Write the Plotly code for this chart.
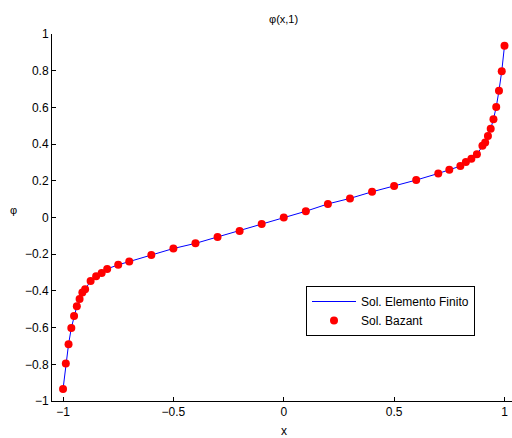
import plotly.graph_objects as go

# Nodal values of phi(x, 1)
x_nodes = [-1.0, -0.9875, -0.975, -0.9625, -0.95, -0.9375, -0.925, -0.9125, -0.9,
           -0.875, -0.85, -0.825, -0.8, -0.75, -0.7, -0.6, -0.5, -0.4, -0.3, -0.2, -0.1,
           0.0, 0.1, 0.2, 0.3, 0.4, 0.5, 0.6, 0.7, 0.75, 0.8, 0.825, 0.85, 0.875,
           0.9, 0.9125, 0.925, 0.9375, 0.95, 0.9625, 0.975, 0.9875, 1.0]
phi_fem = [-0.935, -0.795, -0.691, -0.602, -0.537, -0.484, -0.444, -0.409, -0.391,
           -0.346, -0.320, -0.302, -0.280, -0.258, -0.240, -0.204, -0.169, -0.141, -0.106, -0.073, -0.035,
           0.0, 0.034, 0.074, 0.104, 0.140, 0.171, 0.204, 0.240, 0.260, 0.280, 0.302, 0.320, 0.345,
           0.391, 0.409, 0.444, 0.483, 0.536, 0.602, 0.691, 0.797, 0.936]
phi_bazant = list(phi_fem)

x_ticks = [-1, -0.5, 0, 0.5, 1]
y_ticks = [-1, -0.8, -0.6, -0.4, -0.2, 0, 0.2, 0.4, 0.6, 0.8, 1]
y_tick_text = ["\u22121", "\u22120.8", "\u22120.6", "\u22120.4", "\u22120.2", "0",
               "0.2", "0.4", "0.6", "0.8", "1"]
x_tick_text = ["\u22121", "\u22120.5", "0", "0.5", "1"]

W, H = 512, 438
M_L, M_R, M_T, M_B = 52, 0, 34, 37
plot_h = H - M_T - M_B

fig = go.Figure()
fig.add_trace(go.Scatter(
    x=x_nodes, y=phi_fem, mode="lines", name="Sol. Elemento Finito",
    line=dict(color="#0000ff", width=1), cliponaxis=False,
))
fig.add_trace(go.Scatter(
    x=x_nodes, y=phi_bazant, mode="markers", name="Sol. Bazant",
    marker=dict(color="#ff0000", size=8, line=dict(width=0)), cliponaxis=False,
))

font = dict(family="Liberation Sans, Arial, sans-serif", size=12, color="black")

def paper_y(py):
    return (H - M_B - py) / plot_h

fig.update_layout(
    width=W, height=H,
    margin=dict(l=M_L, r=M_R, t=M_T, b=M_B),
    paper_bgcolor="white", plot_bgcolor="white",
    font=font,
    showlegend=True,
    legend=dict(
        x=(306 - M_L) / (W - M_L - M_R), y=paper_y(286),
        xanchor="left", yanchor="top",
        bordercolor="black", borderwidth=1, bgcolor="white",
        font=dict(family="Liberation Sans, Arial, sans-serif", size=12, color="black"),
        itemwidth=44, tracegroupgap=0,
    ),
    xaxis=dict(
        range=[-1.05, 1.034], tickmode="array", tickvals=x_ticks, ticktext=x_tick_text,
        showgrid=False, zeroline=False, showline=True, linecolor="black", linewidth=1,
        ticks="inside", ticklen=4, tickcolor="black", mirror=False,
    ),
    yaxis=dict(
        range=[-1, 1], tickmode="array", tickvals=y_ticks, ticktext=y_tick_text,
        showgrid=False, zeroline=False, showline=True, linecolor="black", linewidth=1,
        ticks="inside", ticklen=4, tickcolor="black", mirror=False,
    ),
    annotations=[
        dict(text="\u03c6(x,1)", x=0, xref="x", y=paper_y(19), yref="paper",
             showarrow=False, xanchor="center", yanchor="middle", font=dict(size=11)),
        dict(text="x", x=0, xref="x", y=paper_y(431), yref="paper",
             showarrow=False, xanchor="center", yanchor="middle", font=dict(size=12)),
        dict(text="\u03c6", x=(13 - M_L) / (W - M_L - M_R), xref="paper", y=paper_y(210), yref="paper",
             showarrow=False, xanchor="center", yanchor="middle", font=dict(size=11)),
    ],
)

fig.write_html("out.html")
